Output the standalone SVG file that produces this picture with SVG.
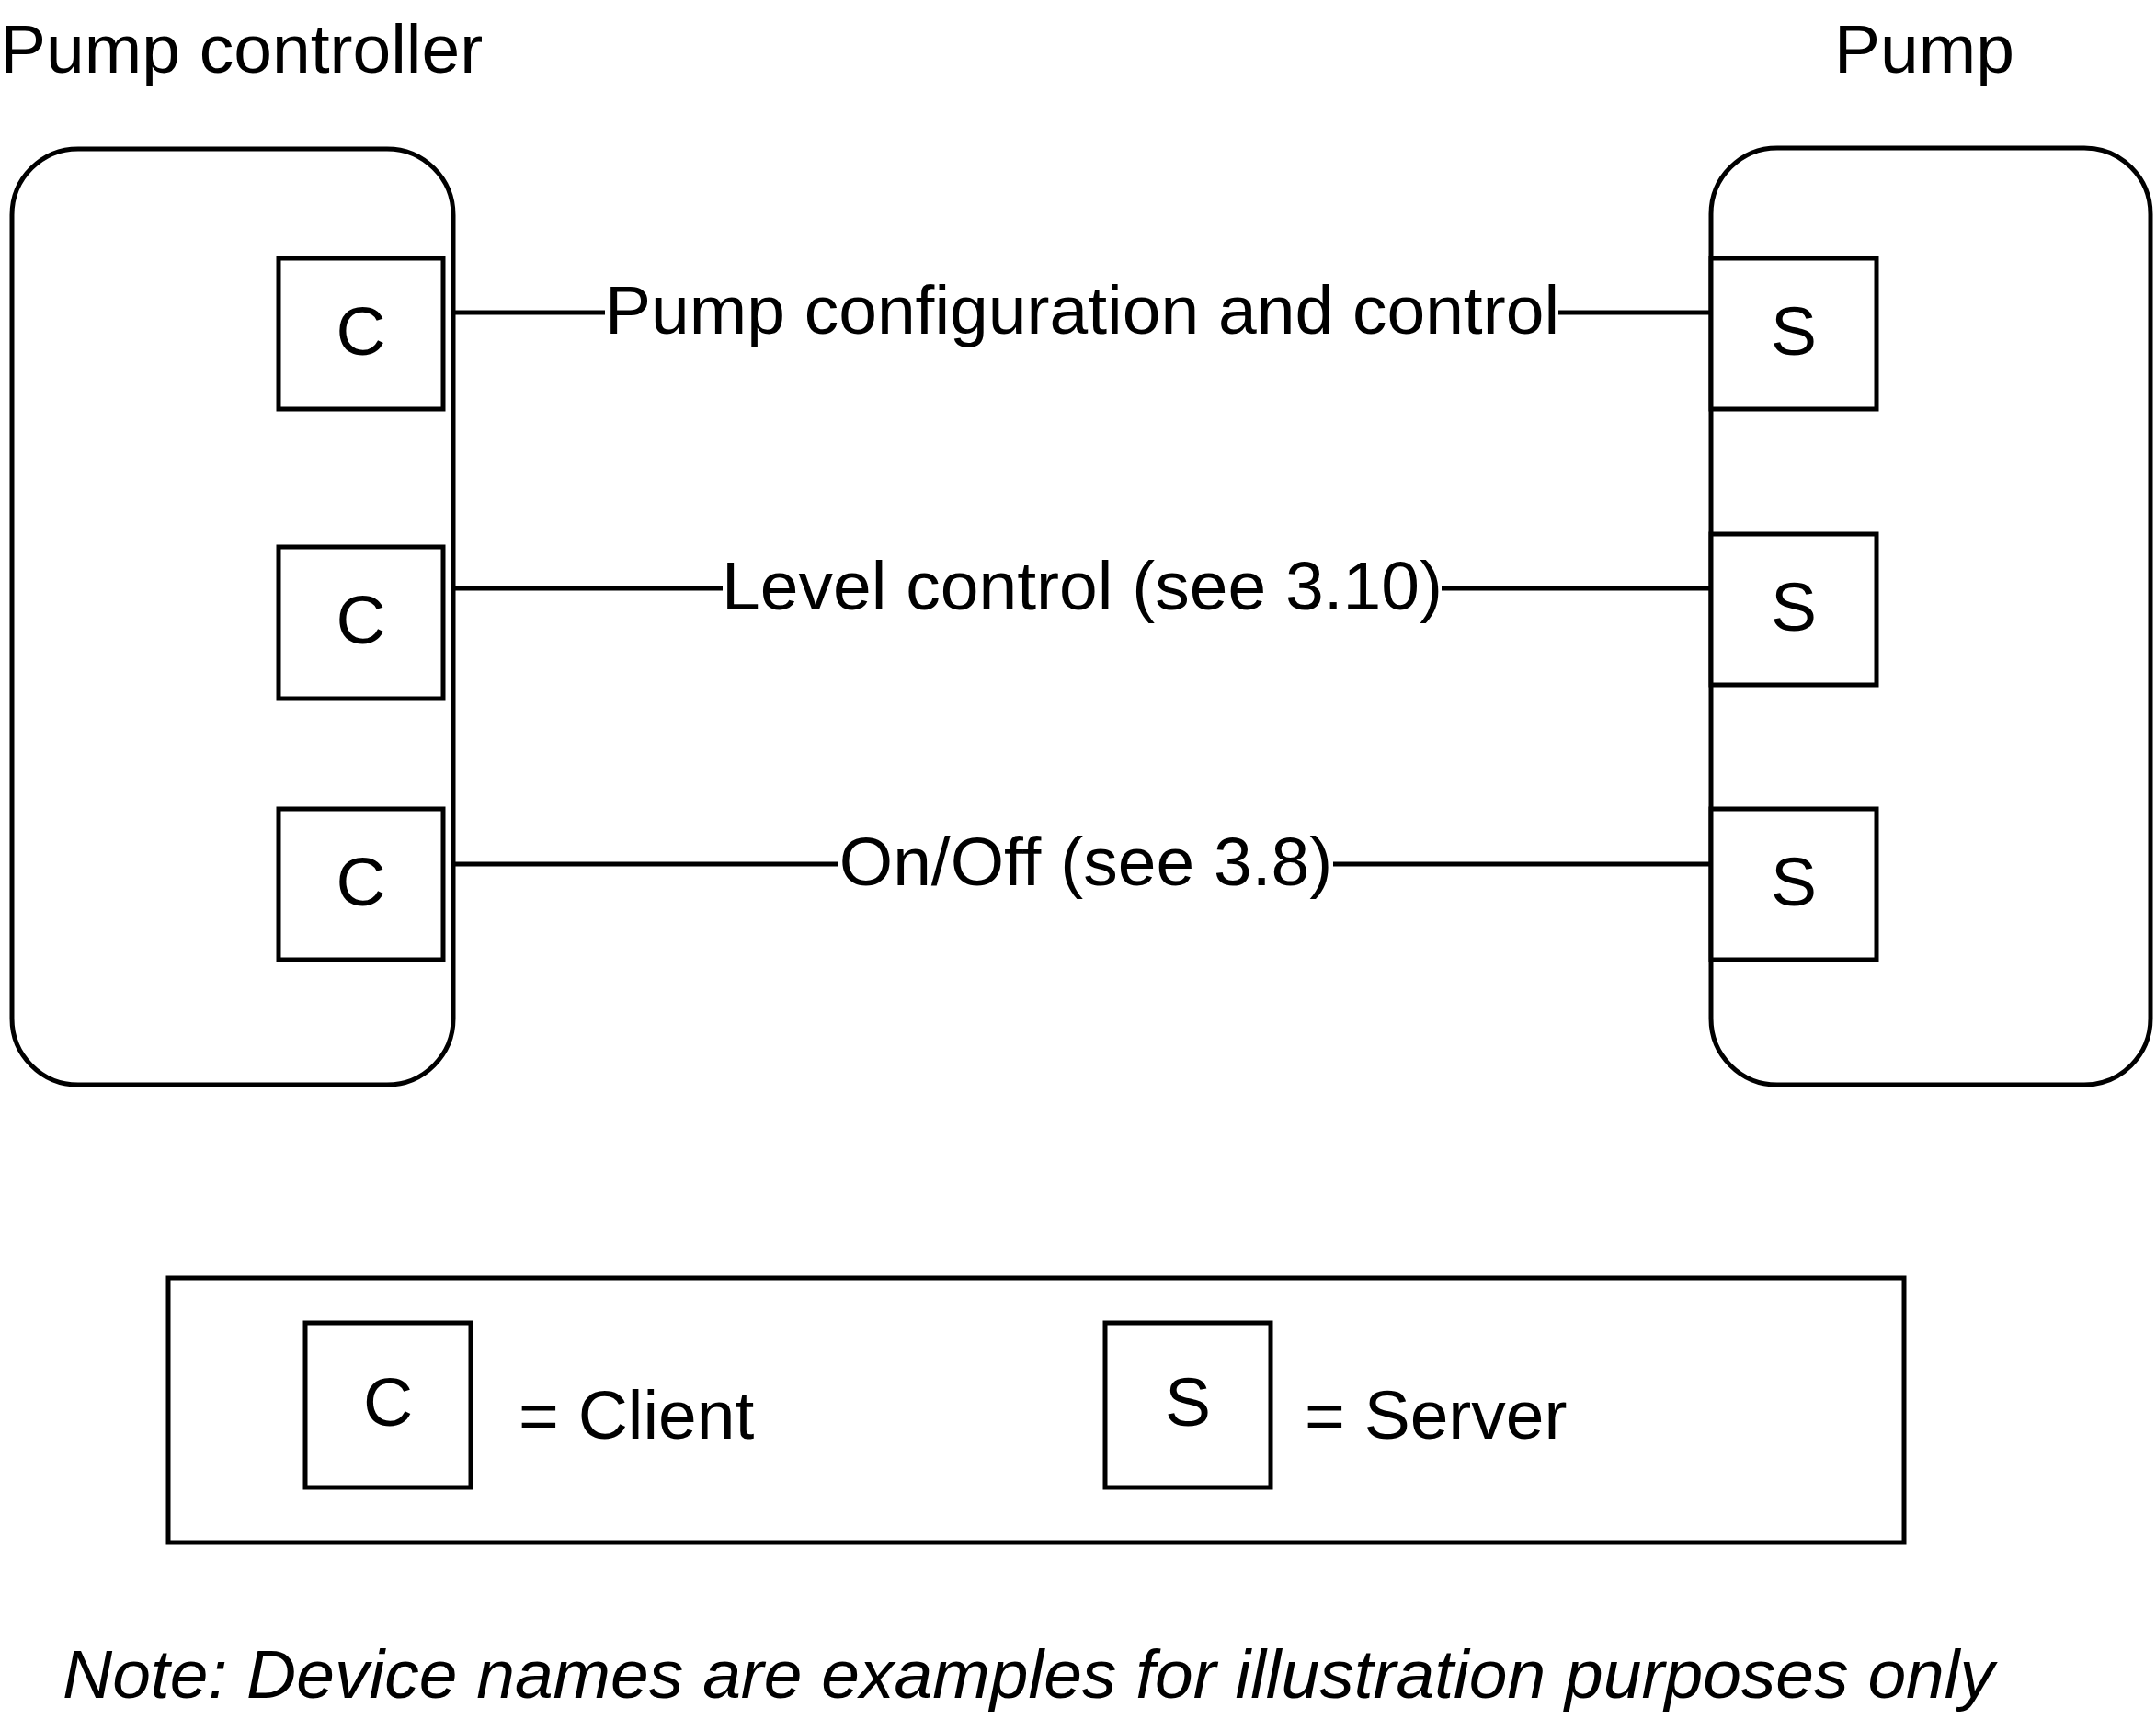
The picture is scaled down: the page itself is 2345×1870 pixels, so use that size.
<svg xmlns="http://www.w3.org/2000/svg" width="2345" height="1870" viewBox="0 0 2345 1870">
<style>
  .frame { fill: none; stroke: #000; stroke-width: 5; }
  .box { fill: #fff; stroke: #000; stroke-width: 5; }
  .conn { stroke: #000; stroke-width: 5; fill: none; }
  .t { font-family: "Liberation Sans", Arial, sans-serif; font-size: 75px; fill: #000; }
  .mid { text-anchor: middle; }
  .it { font-style: italic; }
</style>
<rect width="2345" height="1870" fill="#fff"/>

<g id="pump-controller">
  <text class="t" x="0" y="79">Pump controller</text>
  <rect class="frame" x="13" y="162" width="480" height="1018" rx="72" ry="72"/>
</g>

<g id="pump">
  <text class="t" x="1995" y="79">Pump</text>
  <rect class="frame" x="1861" y="161" width="478" height="1019" rx="72" ry="72"/>
</g>

<g id="client-1">
  <rect class="box" x="303" y="281" width="179" height="164"/>
  <text class="t mid" x="392.5" y="386">C</text>
</g>
<g id="client-2">
  <rect class="box" x="303" y="595" width="179" height="165"/>
  <text class="t mid" x="392.5" y="700">C</text>
</g>
<g id="client-3">
  <rect class="box" x="303" y="880" width="179" height="164"/>
  <text class="t mid" x="392.5" y="985">C</text>
</g>

<g id="server-1">
  <rect class="box" x="1861" y="281" width="180" height="164"/>
  <text class="t mid" x="1951" y="386">S</text>
</g>
<g id="server-2">
  <rect class="box" x="1861" y="581" width="180" height="164"/>
  <text class="t mid" x="1951" y="686">S</text>
</g>
<g id="server-3">
  <rect class="box" x="1861" y="880" width="180" height="164"/>
  <text class="t mid" x="1951" y="985">S</text>
</g>

<g id="connectors">
  <line class="conn" x1="493" y1="340" x2="658" y2="340"/>
  <line class="conn" x1="1695" y1="340" x2="1861" y2="340"/>
  <text class="t mid" x="1177" y="363">Pump configuration and control</text>

  <line class="conn" x1="493" y1="640" x2="786" y2="640"/>
  <line class="conn" x1="1568" y1="640" x2="1861" y2="640"/>
  <text class="t mid" x="1177" y="663">Level control (see 3.10)</text>

  <line class="conn" x1="493" y1="940" x2="911" y2="940"/>
  <line class="conn" x1="1450" y1="940" x2="1861" y2="940"/>
  <text class="t mid" x="1181" y="963">On/Off (see 3.8)</text>
</g>

<g id="legend">
  <rect class="frame" x="183" y="1390" width="1888" height="288"/>
  <g id="legend-client">
    <rect class="box" x="332" y="1439" width="180" height="179"/>
    <text class="t mid" x="422" y="1551">C</text>
    <text class="t" x="564" y="1565">= Client</text>
  </g>
  <g id="legend-server">
    <rect class="box" x="1202" y="1439" width="180" height="179"/>
    <text class="t mid" x="1292" y="1551">S</text>
    <text class="t" x="1419" y="1565">= Server</text>
  </g>
</g>

<g id="note">
  <text class="t it" x="68" y="1847">Note: Device names are examples for illustration purposes only</text>
</g>
</svg>
